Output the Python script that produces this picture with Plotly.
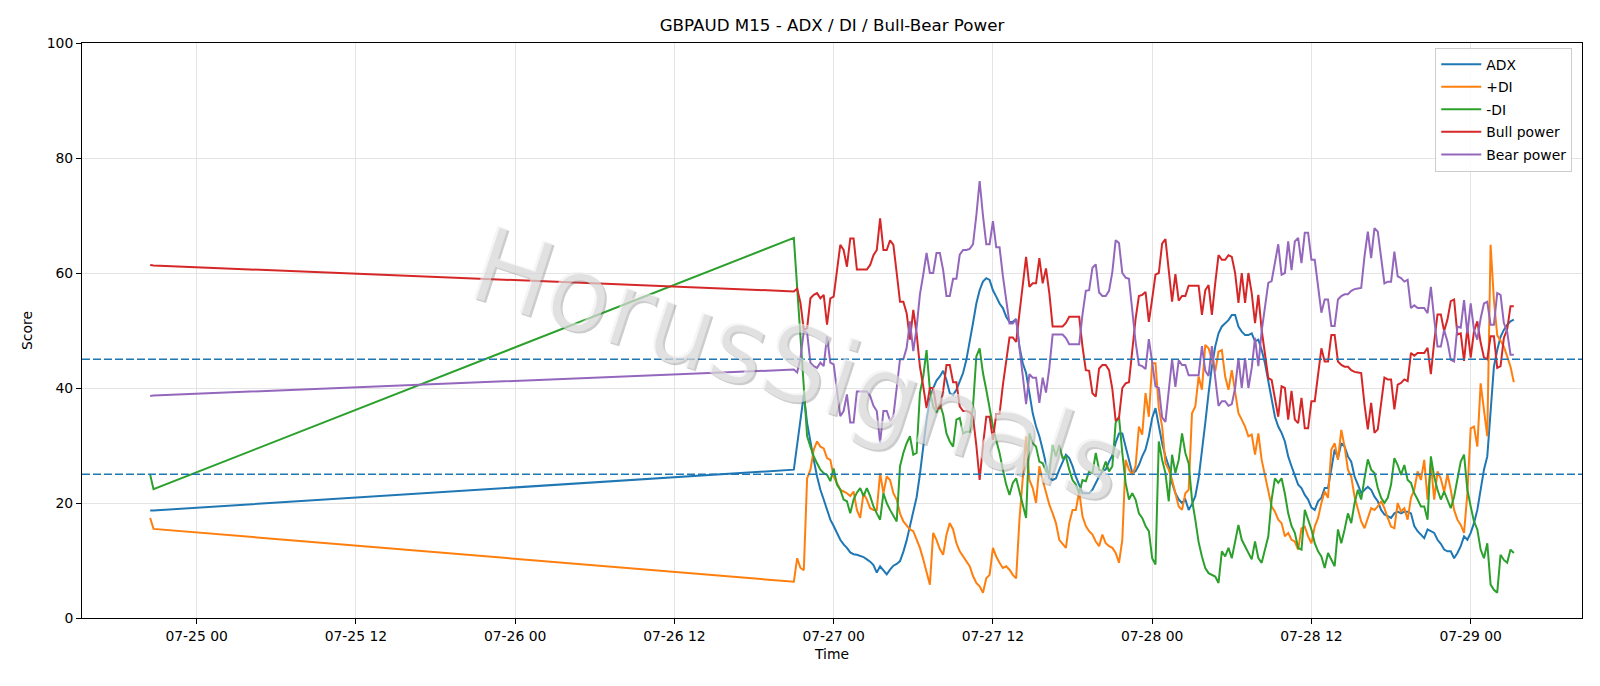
import pandas as pd
import plotly.graph_objects as go

# ---------------- data ----------------
friday_times = ["2026-07-24 20:30", "2026-07-24 20:45"]
session_start = "2026-07-26 21:00"

adx_fri = [18.7, 18.7]
pdi_fri = [17.4, 15.5]
mdi_fri = [24.9, 22.4]
bull_fri = [61.4, 61.3]
bear_fri = [38.6, 38.7]

adx = [25.8, 30.2, 34.5, 38.8, 33.9, 30.4, 27.5, 24.6, 22.3, 20.6, 18.8, 17.1, 16.0, 14.8, 13.6, 12.8, 12.2, 11.4, 11.1, 11.0,
       10.8, 10.6, 10.2, 9.8, 9.2, 7.9, 9.0, 8.3, 7.6, 8.4, 9.1, 9.4, 9.9, 11.5, 13.5, 16.0, 18.5, 21.0, 25.0, 30.0,
       34.5, 38.0, 40.0, 41.3, 42.0, 43.0, 41.4, 39.1, 38.8, 39.7, 41.1, 42.6, 44.9, 47.8, 51.3, 54.7, 57.0, 58.5, 59.1, 58.8,
       57.0, 55.9, 54.7, 53.9, 52.4, 51.5, 51.5, 52.0, 47.2, 44.3, 42.6, 39.1, 35.6, 33.3, 31.6, 29.3, 26.9, 24.3, 24.0, 24.3,
       25.8, 27.2, 28.4, 27.8, 26.4, 24.6, 23.2, 21.7, 21.7, 21.7, 22.3, 23.5, 24.6, 25.5, 25.8, 27.2, 28.3, 30.5, 32.1, 32.1,
       29.8, 27.5, 25.2, 25.5, 26.6, 28.1, 29.3, 31.6, 34.8, 36.5, 33.3, 30.4, 28.1, 26.4, 23.5, 21.7, 20.6, 20.0, 20.6, 18.8,
       19.8, 21.2, 24.3, 28.7, 33.9, 39.1, 43.7, 47.2, 49.5, 50.7, 51.3, 51.8, 52.7, 52.7, 50.7, 49.8, 49.2, 49.2, 49.5, 48.1,
       48.4, 46.6, 44.3, 41.4, 37.9, 35.0, 33.3, 32.2, 30.7, 28.1, 26.4, 24.9, 23.2, 22.6, 21.4, 20.6, 19.2, 18.8, 20.3, 20.9,
       22.6, 22.6, 26.1, 29.3, 27.8, 30.4, 29.8, 28.1, 27.2, 24.6, 23.2, 21.7, 22.3, 22.8, 22.3, 21.1, 20.3, 18.8, 18.0, 17.7,
       17.4, 18.2, 18.5, 18.2, 18.5, 18.5, 18.2, 16.0, 15.1, 14.5, 13.9, 15.4, 15.1, 14.8, 13.6, 12.9, 11.9, 11.6, 11.6, 10.4,
       11.3, 12.5, 14.2, 13.6, 14.8, 16.5, 18.8, 22.3, 25.8, 28.1, 36.2, 43.7, 46.6, 48.9, 50.1, 51.0, 51.6, 51.9]

plus_di = [6.3, 10.4, 8.7, 8.3, 24.3, 25.8, 29.3, 30.7, 29.8, 29.5, 27.8, 27.5, 24.6, 23.5, 22.3, 22.0, 21.7, 21.2, 22.0, 18.8,
           17.4, 21.7, 20.6, 19.1, 18.8, 18.8, 25.2, 21.7, 24.6, 24.0, 21.7, 20.6, 18.2, 16.8, 16.0, 15.4, 15.1, 13.6, 12.2, 10.2,
           7.9, 5.8, 14.8, 13.6, 12.0, 11.0, 14.5, 16.5, 15.4, 13.0, 11.6, 10.7, 9.8, 9.0, 7.3, 6.1, 5.5, 4.4, 6.9, 7.5,
           12.2, 10.7, 9.6, 8.7, 9.0, 8.4, 7.5, 6.9, 17.1, 24.0, 31.6, 24.0, 22.6, 20.0, 26.4, 24.0, 21.7, 19.7, 18.2, 16.5,
           13.6, 12.8, 12.2, 16.5, 18.8, 18.8, 22.0, 17.7, 16.0, 15.1, 14.5, 13.3, 12.5, 14.5, 13.0, 12.5, 12.2, 11.3, 9.6, 13.6,
           27.5, 25.8, 24.9, 26.4, 33.3, 31.9, 39.1, 35.0, 44.3, 44.3, 36.5, 33.3, 26.9, 25.8, 24.0, 21.7, 19.4, 18.8, 21.7, 22.3,
           35.6, 36.8, 42.0, 39.7, 47.5, 46.9, 44.9, 42.9, 46.3, 46.6, 42.0, 39.7, 43.1, 39.7, 35.6, 34.5, 33.3, 31.6, 31.9, 28.4,
           32.1, 27.5, 24.6, 21.7, 19.4, 18.5, 17.1, 16.5, 14.2, 14.8, 13.6, 13.3, 11.9, 15.6, 15.9, 14.2, 13.0, 15.9, 17.4, 20.0,
           22.0, 20.9, 29.3, 30.4, 27.5, 32.7, 29.8, 25.8, 24.6, 21.1, 18.8, 16.8, 15.6, 17.2, 19.1, 18.8, 19.4, 20.3, 19.1, 17.4,
           15.9, 15.6, 20.0, 18.5, 19.1, 17.1, 20.9, 22.3, 25.5, 24.0, 27.5, 20.6, 27.0, 20.6, 25.5, 24.2, 21.9, 25.0, 22.3, 18.8,
           17.1, 16.2, 14.8, 21.7, 33.0, 33.3, 29.8, 40.8, 36.2, 31.6, 64.9, 55.3, 49.2, 48.1, 47.2, 45.5, 43.7, 41.0]

minus_di = [66.1, 57.4, 48.7, 40.1, 31.6, 29.8, 28.1, 26.9, 25.8, 25.2, 24.9, 23.8, 26.0, 23.2, 22.3, 20.6, 20.3, 18.2, 20.6, 21.8,
            22.6, 21.2, 22.6, 21.2, 19.4, 18.2, 17.1, 21.7, 20.0, 18.8, 17.7, 16.8, 26.4, 28.7, 30.4, 31.6, 28.4, 28.7, 39.1, 42.0,
            46.6, 39.7, 36.8, 35.7, 37.3, 35.4, 32.1, 30.7, 29.8, 34.5, 34.8, 32.1, 32.4, 32.4, 36.8, 45.5, 46.9, 42.6, 39.7, 36.2,
            33.3, 30.9, 28.7, 25.8, 23.2, 21.4, 23.5, 24.3, 22.0, 19.4, 17.4, 32.1, 30.4, 29.8, 27.2, 26.9, 25.5, 25.2, 30.1, 28.1,
            30.1, 27.8, 28.1, 25.8, 24.0, 23.2, 21.7, 24.0, 23.8, 25.5, 25.2, 28.7, 25.8, 25.5, 27.2, 25.5, 26.4, 34.0, 35.0, 28.7,
            23.5, 20.6, 21.7, 20.6, 18.2, 17.4, 16.0, 15.1, 10.4, 9.3, 30.7, 27.5, 25.2, 20.3, 28.4, 25.2, 27.5, 32.1, 28.7, 26.9,
            20.6, 17.1, 13.2, 10.7, 8.7, 7.8, 7.5, 7.2, 6.1, 11.6, 10.7, 12.2, 10.4, 13.0, 16.2, 13.6, 12.5, 11.3, 10.2, 13.3,
            10.4, 9.6, 12.2, 14.2, 20.6, 24.3, 23.5, 24.3, 21.6, 18.2, 16.0, 14.8, 12.2, 11.9, 18.8, 17.1, 15.4, 13.0, 11.6, 10.7,
            8.7, 11.3, 10.2, 9.0, 15.4, 13.0, 15.4, 18.2, 16.5, 20.0, 22.3, 20.6, 24.3, 27.6, 25.8, 25.2, 22.6, 20.9, 20.0, 20.9,
            23.2, 27.8, 26.6, 24.9, 26.6, 24.0, 23.5, 21.7, 20.6, 19.4, 19.4, 17.1, 28.1, 24.6, 22.3, 20.6, 22.0, 20.5, 19.1, 21.1,
            24.3, 27.2, 28.4, 22.3, 19.4, 16.8, 15.4, 11.9, 10.4, 13.0, 5.8, 4.9, 4.4, 11.0, 10.1, 9.6, 11.9, 11.3]

bull_power = [56.8, 57.3, 54.8, 50.1, 50.4, 55.6, 56.2, 56.5, 55.6, 56.2, 51.0, 55.6, 55.9, 60.8, 64.9, 64.0, 61.1, 66.0, 66.0, 60.6,
              60.6, 60.6, 60.6, 61.4, 63.1, 64.0, 69.5, 64.0, 64.0, 65.7, 64.9, 60.0, 55.0, 55.0, 53.0, 48.4, 53.6, 49.5, 43.7, 40.3,
              36.5, 40.0, 40.0, 36.5, 36.5, 39.5, 44.0, 44.0, 41.0, 41.0, 36.8, 36.0, 36.0, 35.8, 35.0, 30.0, 24.0, 30.0, 35.0, 35.0,
              31.0, 35.5, 35.5, 40.5, 44.8, 48.8, 48.8, 48.0, 53.0, 58.0, 62.8, 57.6, 58.2, 58.2, 62.6, 58.2, 60.8, 56.5, 50.7, 50.7,
              50.7, 50.7, 51.3, 52.4, 52.4, 52.4, 52.4, 47.2, 43.1, 43.0, 39.1, 38.5, 43.4, 44.0, 44.0, 43.1, 39.8, 34.3, 34.8, 40.0,
              40.8, 41.0, 47.0, 52.0, 56.0, 56.2, 56.7, 51.5, 55.5, 59.7, 60.0, 65.1, 65.9, 61.0, 55.0, 59.8, 55.2, 56.0, 56.0, 57.8,
              57.8, 57.8, 57.8, 52.7, 57.0, 57.9, 52.7, 58.2, 63.1, 62.3, 62.3, 63.1, 62.8, 60.0, 54.8, 60.0, 54.8, 60.0, 56.5, 51.3,
              56.2, 50.1, 46.0, 41.7, 41.4, 37.9, 35.0, 40.3, 40.0, 34.5, 39.5, 34.5, 33.9, 38.3, 33.0, 33.0, 37.7, 37.7, 42.6, 46.9,
              44.6, 44.6, 49.2, 49.2, 44.6, 44.0, 43.7, 43.7, 43.1, 42.8, 42.7, 42.6, 37.1, 32.8, 37.4, 32.2, 32.8, 37.1, 41.8, 41.5,
              41.5, 36.3, 40.6, 40.9, 41.5, 41.2, 46.1, 45.6, 46.1, 46.1, 46.1, 47.0, 42.4, 48.0, 52.8, 52.8, 49.9, 51.9, 55.1, 55.4,
              49.3, 49.5, 44.7, 50.5, 45.3, 49.9, 51.6, 47.9, 45.3, 45.0, 49.0, 49.0, 43.5, 43.8, 48.7, 50.2, 54.2, 54.2]

bear_power = [43.2, 42.7, 45.2, 49.9, 49.6, 44.4, 43.8, 43.5, 44.4, 43.8, 49.0, 44.4, 44.1, 39.2, 35.1, 36.0, 38.9, 34.0, 34.0, 39.4,
              39.4, 39.4, 39.4, 38.6, 36.9, 36.0, 30.5, 36.0, 36.0, 34.3, 35.1, 40.0, 45.0, 45.0, 47.0, 51.6, 46.4, 50.5, 56.3, 59.7,
              63.5, 60.0, 60.0, 63.5, 63.5, 60.5, 56.0, 56.0, 59.0, 59.0, 63.2, 64.0, 64.0, 64.2, 65.0, 70.0, 76.0, 70.0, 65.0, 65.0,
              69.0, 64.5, 64.5, 59.5, 55.2, 51.2, 51.2, 52.0, 47.0, 42.0, 37.2, 42.4, 41.8, 41.8, 37.4, 41.8, 39.2, 43.5, 49.3, 49.3,
              49.3, 49.3, 48.7, 47.6, 47.6, 47.6, 47.6, 52.8, 56.9, 57.0, 60.9, 61.5, 56.6, 56.0, 56.0, 56.9, 60.2, 65.7, 65.2, 60.0,
              59.2, 59.0, 53.0, 48.0, 44.0, 43.8, 43.3, 48.5, 44.5, 40.3, 40.0, 34.9, 34.1, 39.0, 45.0, 40.2, 44.8, 44.0, 44.0, 42.2,
              42.2, 42.2, 42.2, 47.3, 43.0, 42.1, 47.3, 41.8, 36.9, 37.7, 37.7, 36.9, 37.2, 40.0, 45.2, 40.0, 45.2, 40.0, 43.5, 48.7,
              43.8, 49.9, 54.0, 58.3, 58.6, 62.1, 65.0, 59.7, 60.0, 65.5, 60.5, 65.5, 66.1, 61.7, 67.0, 67.0, 62.3, 62.3, 57.4, 53.1,
              55.4, 55.4, 50.8, 50.8, 55.4, 56.0, 56.3, 56.3, 56.9, 57.2, 57.3, 57.4, 62.9, 67.2, 62.6, 67.8, 67.2, 62.9, 58.2, 58.5,
              58.5, 63.7, 59.4, 59.1, 58.5, 58.8, 53.9, 54.4, 53.9, 53.9, 53.9, 53.0, 57.6, 52.0, 47.2, 47.2, 50.1, 48.1, 44.9, 44.6,
              50.7, 50.5, 55.3, 49.5, 54.7, 50.1, 48.4, 52.1, 54.7, 55.0, 51.0, 51.0, 56.5, 56.2, 51.3, 49.8, 45.8, 45.8]

x_tick_values = ["2026-07-25 00:00", "2026-07-25 12:00", "2026-07-26 00:00", "2026-07-26 12:00", "2026-07-27 00:00",
                 "2026-07-27 12:00", "2026-07-28 00:00", "2026-07-28 12:00", "2026-07-29 00:00"]
x_tick_labels = ["07-25 00", "07-25 12", "07-26 00", "07-26 12", "07-27 00", "07-27 12", "07-28 00", "07-28 12", "07-29 00"]
y_tick_values = [0, 20, 40, 60, 80, 100]
threshold_levels = [25, 45]

# ---------------- build ----------------
times = list(pd.to_datetime(friday_times)) + list(pd.date_range(session_start, periods=len(adx), freq="15min"))

series = [
    ("ADX", adx_fri + adx, "#1f77b4"),
    ("+DI", pdi_fri + plus_di, "#ff7f0e"),
    ("-DI", mdi_fri + minus_di, "#2ca02c"),
    ("Bull power", bull_fri + bull_power, "#d62728"),
    ("Bear power", bear_fri + bear_power, "#9467bd"),
]

FONT = "DejaVu Sans"
fig = go.Figure()
for name, vals, color in series:
    fig.add_trace(go.Scatter(x=times, y=vals, mode="lines", name=name, legendgroup=name,
                             line=dict(color=color, width=2)))

shapes = []
for lvl in threshold_levels:
    shapes.append(dict(type="line", xref="paper", x0=0, x1=1, yref="y", y0=lvl, y1=lvl,
                       line=dict(color="#1f77b4", width=1.4, dash="8px,3px"), layer="above"))

axis_common = dict(showline=True, mirror=True, linecolor="black", linewidth=1,
                   ticks="outside", ticklen=5, tickcolor="black", tickwidth=1,
                   showgrid=True, gridcolor="#e4e4e4", gridwidth=1, zeroline=False,
                   tickfont=dict(family=FONT, size=13.9, color="black"))

wm_text = "HorusSignals"
wm_x, wm_y, wm_angle, wm_size = 0.477, 0.44, 18, 104

fig.update_layout(
    width=1600, height=686,
    margin=dict(l=82, r=18, t=43, b=68),
    paper_bgcolor="white", plot_bgcolor="white",
    title=dict(text="GBPAUD M15 - ADX / DI / Bull-Bear Power", x=0.5, xref="paper", xanchor="center",
               y=1 - 25.5 / 686, yref="container", yanchor="middle",
               font=dict(family=FONT, size=16.7, color="black")),
    xaxis=dict(type="date", range=["2026-07-24 15:21:45", "2026-07-29 08:23:15"],
               tickvals=x_tick_values, ticktext=x_tick_labels,
               title=dict(text="Time", font=dict(family=FONT, size=13.9, color="black"), standoff=6),
               **axis_common),
    yaxis=dict(range=[0, 100], tickvals=y_tick_values,
               title=dict(text="Score", font=dict(family=FONT, size=13.9, color="black"), standoff=10),
               **axis_common),
    legend=dict(x=0.9935, y=0.992, xanchor="right", yanchor="top", bgcolor="rgba(255,255,255,0.85)",
                bordercolor="#cccccc", borderwidth=1, tracegroupgap=1.5, traceorder="grouped",
                itemwidth=40,
                font=dict(family=FONT, size=13.9, color="black")),
    shapes=shapes,
    annotations=[
        # shadow / rim layer
        dict(text=wm_text, xref="paper", yref="paper", x=wm_x, y=wm_y, xshift=2, yshift=-2,
             xanchor="center", yanchor="middle", showarrow=False, textangle=wm_angle,
             font=dict(family=FONT, size=wm_size, color="rgba(110,110,110,0.35)")),
        # light face layer
        dict(text=wm_text, xref="paper", yref="paper", x=wm_x, y=wm_y,
             xanchor="center", yanchor="middle", showarrow=False, textangle=wm_angle,
             font=dict(family=FONT, size=wm_size, color="rgba(238,238,238,0.6)")),
    ],
)

fig.write_html("out.html")
